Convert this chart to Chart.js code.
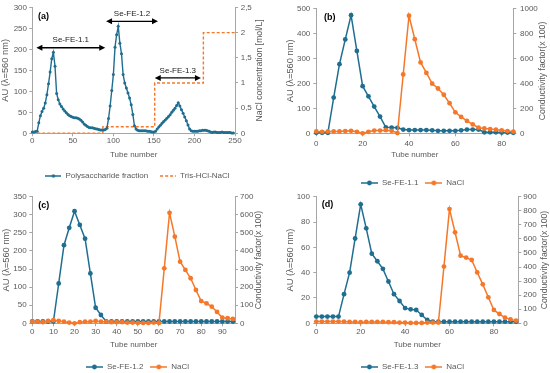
<!DOCTYPE html>
<html>
<head>
<meta charset="utf-8">
<script src="https://cdn.jsdelivr.net/npm/chart.js@4.4.0/dist/chart.umd.min.js"></script>
<style>
  html, body { margin: 0; padding: 0; background: #fff; overflow: hidden; width: 550px; height: 373px; }
  .panel { position: absolute; }
  canvas { display: block; }
</style>
</head>
<body>
<div class="panel" style="left:0px;top:0px"><canvas id="chartA" width="275" height="190"></canvas></div>
<div class="panel" style="left:275px;top:0px"><canvas id="chartB" width="275" height="197"></canvas></div>
<div class="panel" style="left:0px;top:185px"><canvas id="chartC" width="275" height="196"></canvas></div>
<div class="panel" style="left:275px;top:185px"><canvas id="chartD" width="275" height="196"></canvas></div>
<script>
// ---- panel (a): DEAE elution profile ----
const tubesA = [
  0, 2, 4, 6, 8, 10, 12, 14, 16, 18,
  20, 22, 24, 26, 28, 30, 32, 34, 36, 38,
  40, 42, 44, 46, 48, 50, 52, 54, 56, 58,
  60, 62, 64, 66, 68, 70, 72, 74, 76, 78,
  80, 82, 84, 86, 88, 90, 92, 94, 96, 98,
  100, 102, 104, 106, 108, 110, 112, 114, 116, 118,
  120, 122, 124, 126, 128, 130, 132, 134, 136, 138,
  140, 142, 144, 146, 148, 150, 152, 154, 156, 158,
  160, 162, 164, 166, 168, 170, 172, 174, 176, 178,
  180, 182, 184, 186, 188, 190, 192, 194, 196, 198,
  200, 202, 204, 206, 208, 210, 212, 214, 216, 218,
  220, 222, 224, 226, 228, 230, 232, 234, 236, 238,
  240, 242, 244, 246, 248
];
const auA = [
  3, 3, 4, 5, 25, 42, 52, 60, 72, 92,
  118, 146, 178, 193, 160, 95, 80, 70, 64, 58,
  53, 49, 45, 42, 40, 38, 37, 37, 36, 34,
  31, 27, 22, 19, 16, 14, 13, 13, 12, 11,
  10, 9, 8, 8, 8, 9, 12, 35, 65, 102,
  140, 205, 235, 255, 215, 190, 140, 120, 108, 96,
  84, 68, 45, 18, 10, 7, 6, 6, 6, 6,
  6, 5, 5, 4, 3, 3, 5, 10, 15, 19,
  24, 28, 32, 36, 40, 44, 50, 55, 60, 66,
  73, 65, 56, 48, 39, 30, 20, 10, 6, 5,
  5, 5, 5, 6, 6, 7, 7, 7, 6, 5,
  3, 2, 3, 3, 2, 2, 2, 3, 2, 2,
  2, 2, 2, 1, 1
];
const saltTubesA = [0, 87, 87, 151, 151, 211, 211, 250];
const saltA = [0, 0, 0.13, 0.13, 1, 1, 2, 2];
const fractionNames = ["Se-FE-1.1", "Se-FE-1.2", "Se-FE-1.3"];
const fractionStart = [5, 91, 151];
const fractionEnd = [90, 155, 208];
const fractionLevel = [204, 267, 132];

// ---- panel (b): Se-FE-1.1 ----
const tubesB = [0, 2.5, 5, 7.5, 10, 12.5, 15, 17.5, 20, 22.5, 25, 27.5, 30, 32.5, 35, 37.5, 40, 42.5, 45, 47.5, 50, 52.5, 55, 57.5, 60, 62.5, 65, 67.5, 70, 72.5, 75, 77.5, 80, 82.5, 85];
const auB = [2, 2, 2, 143, 277, 376, 473, 330, 189, 148, 107, 67, 24, 23, 22, 15, 13, 13, 13, 13, 12, 10, 10, 10, 10, 12, 15, 15, 15, 4, 4, 4, 3, 3, 2];
const naclB = [15, 12, 15, 15, 15, 18, 20, 12, 0, 12, 22, 22, 25, 20, 2, 471, 942, 754, 568, 484, 398, 359, 309, 241, 168, 131, 99, 71, 45, 39, 34, 29, 24, 18, 13];

// ---- panel (c): Se-FE-1.2 ----
const tubesC = [0, 2.5, 5, 7.5, 10, 12.5, 15, 17.5, 20, 22.5, 25, 27.5, 30, 32.5, 35, 37.5, 40, 42.5, 45, 47.5, 50, 52.5, 55, 57.5, 60, 62.5, 65, 67.5, 70, 72.5, 75, 77.5, 80, 82.5, 85, 87.5, 90, 92.5, 95];
const auC = [5, 5, 5, 5, 5, 110, 216, 264, 310, 272, 234, 138, 43, 23, 5, 5, 5, 5, 5, 5, 5, 5, 5, 5, 5, 5, 5, 5, 5, 5, 5, 5, 5, 5, 5, 5, 5, 5, 5];
const naclC = [9, 9, 6, 13, 17, 13, 9, 4, 0, 6, 9, 9, 13, 9, 9, 6, 6, 6, 4, 4, 2, 2, 2, 4, 2, 304, 611, 479, 341, 295, 249, 184, 123, 110, 92, 63, 31, 28, 24];

// ---- panel (d): Se-FE-1.3 ----
const tubesD = [0, 2.5, 5, 7.5, 10, 12.5, 15, 17.5, 20, 22.5, 25, 27.5, 30, 32.5, 35, 37.5, 40, 42.5, 45, 47.5, 50, 52.5, 55, 57.5, 60, 62.5, 65, 67.5, 70, 72.5, 75, 77.5, 80, 82.5, 85, 87.5, 90];
const auD = [5.3, 5.3, 5.3, 5.3, 5.3, 23, 40, 67, 94, 75, 55, 49, 43, 33, 23, 17.6, 12, 11, 10.5, 6.6, 2.6, 1.3, 1.3, 1.3, 1.3, 1.3, 1.3, 1.3, 1.3, 1.3, 1.3, 1.3, 1.3, 1.3, 1.3, 1.3, 1.3];
const naclD = [12, 12, 12, 12, 12, 12, 10, 10, 8, 10, 10, 10, 10, 8, 8, 5, 5, 3, 3, 3, 5, 5, 5, 403, 812, 647, 481, 467, 450, 362, 277, 185, 95, 66, 40, 28, 19];

const BLUE = "#1f6e90";
const ORANGE = "#f5782a";
const AXIS = "#a6a6a6";
const FONT = '"Liberation Sans", Arial, sans-serif';
const LEFT_TITLE_SIZE = 9.3;
const RIGHT_TITLE_SIZE = 8.7;

Chart.defaults.font.family = FONT;
Chart.defaults.font.size = 8;
Chart.defaults.color = "#595959";

const toXY = (xs, ys) => xs.map((x, i) => ({ x: x, y: ys[i] }));

// little legend pictures: line with a marker in the middle (like the office legend)
function lineSample(color, radius, dash, w) {
  const c = document.createElement("canvas");
  c.width = w;
  c.height = 8;
  const g = c.getContext("2d");
  g.strokeStyle = color;
  g.lineWidth = 1.5;
  if (dash) g.setLineDash(dash);
  g.beginPath();
  g.moveTo(0, 4);
  g.lineTo(w, 4);
  g.stroke();
  if (radius) {
    g.fillStyle = color;
    g.beginPath();
    g.arc(w / 2, 4, radius, 0, Math.PI * 2);
    g.fill();
  }
  return c;
}

const panelLabel = {
  id: "panelLabel",
  afterDraw(chart, args, opts) {
    const { ctx, chartArea } = chart;
    ctx.save();
    ctx.font = "bold 9px " + FONT;
    ctx.fillStyle = "#000";
    ctx.textBaseline = "middle";
    ctx.textAlign = "left";
    ctx.fillText(opts.text, chartArea.left + opts.dx, chartArea.top + opts.dy);
    ctx.restore();
  },
};

// right axis title, read bottom to top like the left one
const rightTitle = {
  id: "rightTitle",
  afterDraw(chart, args, opts) {
    const { ctx, chartArea } = chart;
    const s = chart.scales.y1;
    ctx.save();
    ctx.font = RIGHT_TITLE_SIZE + "px " + FONT;
    ctx.fillStyle = "#595959";
    ctx.textAlign = "center";
    ctx.textBaseline = "middle";
    ctx.translate(s.right - opts.pad - 4.8, (chartArea.top + chartArea.bottom) / 2);
    ctx.rotate(-Math.PI / 2);
    ctx.fillText(opts.text, 0, 0);
    ctx.restore();
  },
};

function arrowHead(ctx, x, y, dir) {
  ctx.beginPath();
  ctx.moveTo(x, y);
  ctx.lineTo(x - dir * 6, y - 3);
  ctx.lineTo(x - dir * 6, y + 3);
  ctx.closePath();
  ctx.fill();
}

const fractionArrows = {
  id: "fractionArrows",
  afterDatasetsDraw(chart) {
    const { ctx } = chart;
    const xs = chart.scales.x;
    const ys = chart.scales.y;
    ctx.save();
    ctx.strokeStyle = "#000";
    ctx.lineWidth = 1.3;
    ctx.font = "8px " + FONT;
    ctx.textAlign = "center";
    ctx.textBaseline = "middle";
    fractionNames.forEach((name, i) => {
      const x1 = xs.getPixelForValue(fractionStart[i]);
      const x2 = xs.getPixelForValue(fractionEnd[i]);
      const y = ys.getPixelForValue(fractionLevel[i]);
      ctx.beginPath();
      ctx.moveTo(x1 + 3, y);
      ctx.lineTo(x2 - 3, y);
      ctx.stroke();
      ctx.fillStyle = "#000";
      arrowHead(ctx, x1, y, -1);
      arrowHead(ctx, x2, y, 1);
      ctx.fillStyle = "#222";
      ctx.fillText(name, (x1 + x2) / 2, y - 7.5);
    });
    ctx.restore();
  },
};

function axisBase() {
  return {
    grid: { display: true, drawOnChartArea: false, drawTicks: true, tickLength: 3, color: AXIS },
    border: { display: true, color: AXIS, width: 1 },
  };
}

function buildPanel(id, p) {
  const ctx = document.getElementById(id).getContext("2d");
  const samples = p.samples;
  return new Chart(ctx, {
    type: "line",
    data: { datasets: p.datasets },
    options: {
      responsive: false,
      animation: false,
      layout: { padding: { top: p.top, left: 0, right: 0, bottom: 0 } },
      plugins: {
        tooltip: { enabled: false },
        legend: {
          display: true,
          position: "bottom",
          labels: {
            usePointStyle: true,
            pointStyleWidth: samples[0].width,
            boxHeight: 8,
            padding: p.legendPad,
            color: "#595959",
            font: { size: 8 },
            sort: (a, b) => a.datasetIndex - b.datasetIndex,
            generateLabels: (chart) => {
              const items = Chart.defaults.plugins.legend.labels.generateLabels(chart);
              items.forEach((it) => {
                it.pointStyle = samples[it.datasetIndex];
                it.lineWidth = 0;
              });
              return items;
            },
          },
        },
        panelLabel: p.label,
        rightTitle: { text: p.y1Title, pad: p.y1TitlePad },
      },
      scales: {
        x: Object.assign(axisBase(), {
          type: "linear",
          min: 0,
          max: p.xMax,
          afterFit: (s) => { s.height = p.xH; },
          ticks: { stepSize: p.xStep, includeBounds: false, padding: p.xTickPad, maxRotation: 0 },
          title: { display: true, text: "Tube number", font: { size: 8 }, padding: { top: 0, bottom: p.xTitlePad } },
        }),
        y: Object.assign(axisBase(), {
          position: "left",
          min: 0,
          max: p.yMax,
          afterFit: (s) => { s.width = p.yLW; },
          ticks: { stepSize: p.yStep, padding: p.yTickPad },
          title: {
            display: true,
            text: "AU (\u03bb=560 nm)",
            font: { size: LEFT_TITLE_SIZE },
            padding: { top: Math.max(0, p.yTitlePad - 0.8), bottom: 0 },
          },
        }),
        y1: Object.assign(axisBase(), {
          position: "right",
          min: 0,
          max: p.y1Max,
          afterFit: (s) => { s.width = p.yRW; },
          ticks: { stepSize: p.y1Step, padding: p.y1TickPad, callback: p.y1Format || ((v) => v) },
          title: { display: false },
        }),
      },
    },
    plugins: [panelLabel, rightTitle].concat(p.extra || []),
  });
}

function dotSeries(label, xs, ys, color, axis, order) {
  return {
    label: label,
    data: toXY(xs, ys),
    borderColor: color,
    backgroundColor: color,
    borderWidth: 1.5,
    pointRadius: 2.4,
    pointBorderWidth: 0,
    pointBackgroundColor: color,
    tension: 0,
    clip: false,
    yAxisID: axis,
    order: order,
  };
}

// (a)
buildPanel("chartA", {
  top: 7.3, xH: 26.7, xTickPad: 0, xTitlePad: 0, xMax: 250, xStep: 50,
  yLW: 32.3, yRW: 40, yMax: 300, yStep: 50, yTickPad: 2.3, yTitlePad: 0,
  y1Max: 2.5, y1Step: 0.5, y1TickPad: 2.7, y1TitlePad: 10.2,
  y1Title: "NaCl concentration [mol/L]",
  y1Format: (v) => String(v).replace(".", ","),
  legendPad: 12,
  label: { text: "(a)", dx: 5.7, dy: 8.7 },
  samples: [lineSample(BLUE, 1.7, null, 16), lineSample(ORANGE, 0, [3, 2], 16)],
  extra: [fractionArrows],
  datasets: [
    {
      label: "Polysaccharide fraction",
      data: toXY(tubesA, auA),
      borderColor: BLUE,
      backgroundColor: BLUE,
      borderWidth: 1.4,
      pointRadius: 1.5,
      pointBorderWidth: 0,
      pointBackgroundColor: BLUE,
      tension: 0,
      clip: false,
      yAxisID: "y",
    },
    {
      label: "Tris-HCl-NaCl",
      data: toXY(saltTubesA, saltA),
      borderColor: ORANGE,
      borderWidth: 1.4,
      borderDash: [3, 2],
      pointRadius: 0,
      tension: 0,
      yAxisID: "y1",
    },
  ],
});

// (b)
buildPanel("chartB", {
  top: 6, xH: 38.7, xTickPad: 3, xTitlePad: 12.9, xMax: 85, xStep: 20,
  yLW: 41.3, yRW: 36.7, yMax: 500, yStep: 50, yTickPad: 3, yTitlePad: 10.2,
  y1Max: 1000, y1Step: 100, y1TickPad: 3.7, y1TitlePad: 2.2,
  y1Title: "Conductivity factor(x 100)",
  legendPad: 7,
  label: { text: "(b)", dx: 7.7, dy: 9 },
  samples: [lineSample(BLUE, 2.4, null, 17), lineSample(ORANGE, 2.4, null, 17)],
  datasets: [
    dotSeries("Se-FE-1.1", tubesB, auB, BLUE, "y", 2),
    dotSeries("NaCl", tubesB, naclB, ORANGE, "y1", 1),
  ],
});

// (c)
buildPanel("chartC", {
  top: 11.7, xH: 32.7, xTickPad: 1, xTitlePad: 6.2, xMax: 96, xStep: 10,
  yLW: 32.3, yRW: 40, yMax: 350, yStep: 50, yTickPad: 2.6, yTitlePad: 1.9,
  y1Max: 700, y1Step: 100, y1TickPad: 2, y1TitlePad: 11.9,
  y1Title: "Conductivity factor(x 100)",
  legendPad: 7,
  label: { text: "(c)", dx: 6, dy: 9 },
  samples: [lineSample(BLUE, 2.4, null, 17), lineSample(ORANGE, 2.4, null, 17)],
  datasets: [
    dotSeries("Se-FE-1.2", tubesC, auC, BLUE, "y", 2),
    dotSeries("NaCl", tubesC, naclC, ORANGE, "y1", 1),
  ],
});

// (d)
buildPanel("chartD", {
  top: 11.7, xH: 32.7, xTickPad: 1, xTitlePad: 6.2, xMax: 91, xStep: 20,
  yLW: 41.3, yRW: 31.7, yMax: 100, yStep: 20, yTickPad: 3.3, yTitlePad: 10.2,
  y1Max: 900, y1Step: 100, y1TickPad: 2, y1TitlePad: 0.9,
  y1Title: "Conductivity factor(x 100)",
  legendPad: 7,
  label: { text: "(d)", dx: 5.4, dy: 8.3 },
  samples: [lineSample(BLUE, 2.4, null, 17), lineSample(ORANGE, 2.4, null, 17)],
  datasets: [
    dotSeries("Se-FE-1.3", tubesD, auD, BLUE, "y", 2),
    dotSeries("NaCl", tubesD, naclD, ORANGE, "y1", 1),
  ],
});
</script>
</body>
</html>
